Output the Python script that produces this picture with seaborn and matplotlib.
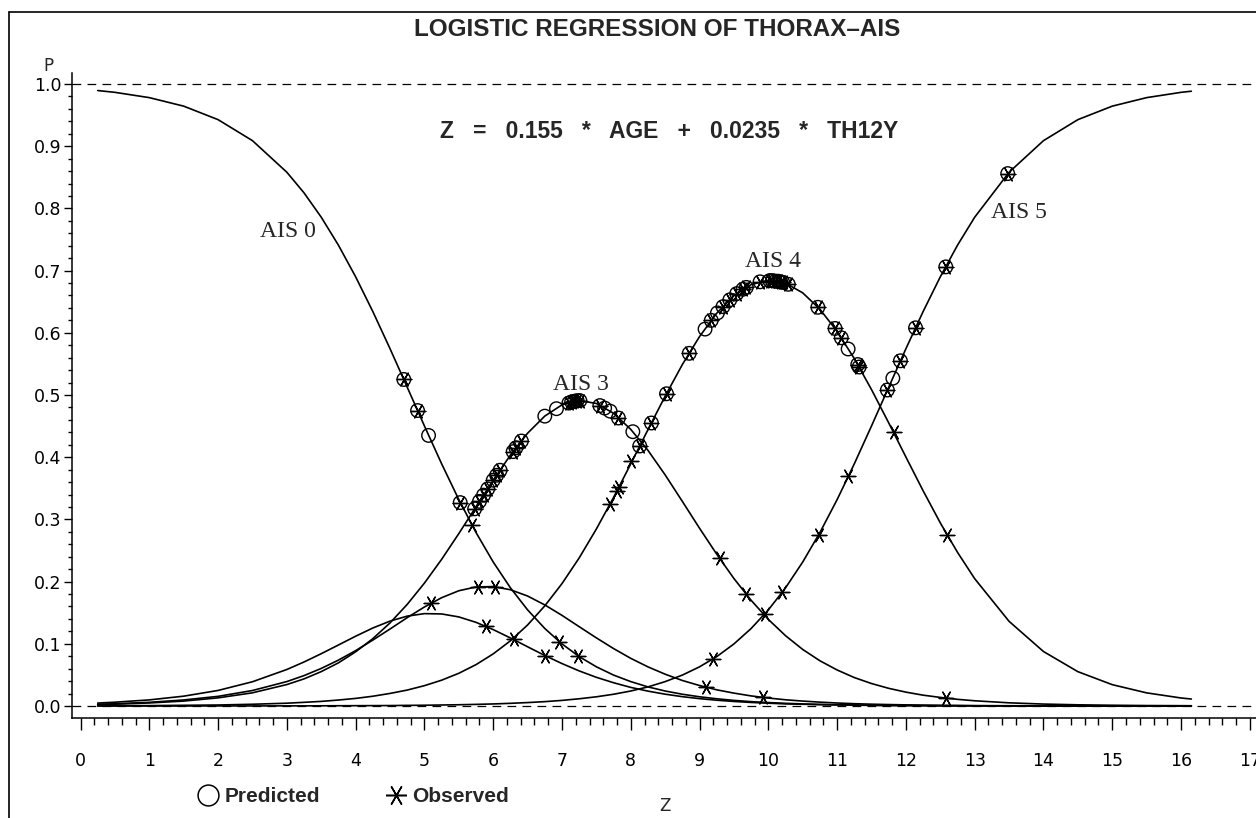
import matplotlib
matplotlib.use("Agg")
import matplotlib.pyplot as plt
import seaborn as sns
import pandas as pd
from matplotlib.lines import Line2D
from matplotlib.ticker import MultipleLocator, FormatStrFormatter

# ---------------- data ----------------
z_grid = [0.25, 0.5, 1.0, 1.5, 2.0, 2.5,
          3.0, 3.25, 3.5, 3.75, 4.0, 4.25, 4.5, 4.75, 5.0, 5.25, 5.5, 5.75,
          6.0, 6.25, 6.5, 6.75, 7.0, 7.25, 7.5, 7.75, 8.0, 8.25, 8.5, 8.75,
          9.0, 9.25, 9.5, 9.75, 10.0, 10.25, 10.5, 10.75, 11.0, 11.25, 11.5, 11.75,
          12.0, 12.25, 12.5, 12.75, 13.0,
          13.5, 14.0, 14.5, 15.0, 15.5, 16.0, 16.15]

p_ais0 = [0.9895, 0.9866, 0.9781, 0.9644, 0.9427, 0.9089,
          0.8581, 0.8249, 0.7858, 0.7408, 0.6900, 0.6341, 0.5744, 0.5125, 0.4502, 0.3894, 0.3318, 0.2789,
          0.2315, 0.1900, 0.1545, 0.1246, 0.0998, 0.0794, 0.0630, 0.0497, 0.0392, 0.0307, 0.0241, 0.0189,
          0.0148, 0.0116, 0.0090, 0.0070, 0.0055, 0.0043, 0.0033, 0.0026, 0.0020, 0.0016, 0.0012, 0.0010,
          0.0007, 0.0006, 0.0005, 0.0004, 0.0003,
          0.0002, 0.0001, 0.0001, 0.0, 0.0, 0.0, 0.0]

p_ais1 = [0.0047, 0.0061, 0.0098, 0.0158, 0.0250, 0.0390,
          0.0587, 0.0708, 0.0841, 0.0981, 0.1122, 0.1254, 0.1365, 0.1445, 0.1485, 0.1480, 0.1432, 0.1345,
          0.1228, 0.1094, 0.0952, 0.0812, 0.0682, 0.0564, 0.0461, 0.0374, 0.0299, 0.0239, 0.0190, 0.0150,
          0.0118, 0.0093, 0.0073, 0.0057, 0.0045, 0.0034, 0.0028, 0.0021, 0.0017, 0.0013, 0.0010, 0.0007,
          0.0007, 0.0005, 0.0003, 0.0002, 0.0002,
          0.0001, 0.0, 0.0, 0.0, 0.0, 0.0, 0.0]

p_ais2 = [0.0027, 0.0036, 0.0059, 0.0097, 0.0155, 0.0249,
          0.0393, 0.0489, 0.0604, 0.0738, 0.0890, 0.1060, 0.1238, 0.1421, 0.1592, 0.1741, 0.1853, 0.1914,
          0.1920, 0.1869, 0.1768, 0.1625, 0.1457, 0.1275, 0.1095, 0.0923, 0.0766, 0.0629, 0.0511, 0.0410,
          0.0329, 0.0260, 0.0207, 0.0162, 0.0128, 0.0100, 0.0079, 0.0062, 0.0048, 0.0037, 0.0029, 0.0023,
          0.0018, 0.0014, 0.0011, 0.0009, 0.0006,
          0.0004, 0.0003, 0.0002, 0.0001, 0.0001, 0.0, 0.0]

p_ais3 = [0.0023, 0.0029, 0.0049, 0.0079, 0.0131, 0.0212,
          0.0345, 0.0436, 0.0553, 0.0694, 0.0871, 0.1083, 0.1336, 0.1634, 0.1976, 0.2358, 0.2772, 0.3203,
          0.3631, 0.4034, 0.4386, 0.4661, 0.4842, 0.4911, 0.4864, 0.4706, 0.4447, 0.4110, 0.3715, 0.3289,
          0.2857, 0.2440, 0.2049, 0.1699, 0.1392, 0.1130, 0.0909, 0.0727, 0.0579, 0.0457, 0.0361, 0.0284,
          0.0223, 0.0174, 0.0138, 0.0107, 0.0084,
          0.0051, 0.0031, 0.0019, 0.0012, 0.0007, 0.0005, 0.0004]

p_ais4 = [0.0003, 0.0004, 0.0006, 0.0011, 0.0016, 0.0028,
          0.0045, 0.0059, 0.0074, 0.0096, 0.0122, 0.0157, 0.0202, 0.0256, 0.0327, 0.0415, 0.0526, 0.0665,
          0.0838, 0.1048, 0.1303, 0.1610, 0.1968, 0.2381, 0.2846, 0.3354, 0.3893, 0.4443, 0.4982, 0.5490,
          0.5940, 0.6315, 0.6597, 0.6776, 0.6844, 0.6799, 0.6642, 0.6379, 0.6022, 0.5585, 0.5087, 0.4552,
          0.4003, 0.3461, 0.2944, 0.2471, 0.2047,
          0.1361, 0.0876, 0.0552, 0.0343, 0.0211, 0.0129, 0.0112]

p_ais5 = [0.0, 0.0, 0.0, 0.0, 0.0001, 0.0001,
          0.0002, 0.0002, 0.0003, 0.0004, 0.0005, 0.0006, 0.0007, 0.0010, 0.0012, 0.0016, 0.0020, 0.0026,
          0.0033, 0.0043, 0.0055, 0.0070, 0.0090, 0.0116, 0.0148, 0.0189, 0.0241, 0.0307, 0.0392, 0.0497,
          0.0630, 0.0794, 0.0998, 0.1246, 0.1545, 0.1900, 0.2315, 0.2789, 0.3318, 0.3894, 0.4502, 0.5125,
          0.5744, 0.6341, 0.6900, 0.7408, 0.7858,
          0.8581, 0.9089, 0.9427, 0.9644, 0.9781, 0.9866, 0.9884]

curve_names = ["AIS 0", "AIS 1", "AIS 2", "AIS 3", "AIS 4", "AIS 5"]

# Predicted (open circles)
pred_z = [4.70, 4.90, 5.06, 5.52,
          5.73, 5.80, 5.86, 5.92, 6.00, 6.05, 6.10, 6.29, 6.33, 6.41,
          6.75, 6.92, 7.10, 7.14, 7.18, 7.22, 7.26, 7.55, 7.62, 7.70, 7.82, 8.03,
          8.13, 8.30, 8.52, 8.85, 9.08, 9.17, 9.26, 9.34, 9.44, 9.54,
          9.63, 9.68, 9.88, 10.02, 10.06, 10.10, 10.14, 10.18, 10.21, 10.29,
          10.72, 10.97, 11.06, 11.16, 11.30, 11.32,
          11.73, 11.81, 11.92, 12.14, 12.58, 13.48]
pred_p = [0.525, 0.475, 0.435, 0.327,
          0.317, 0.329, 0.339, 0.349, 0.363, 0.371, 0.379, 0.409, 0.415, 0.426,
          0.466, 0.478, 0.487, 0.489, 0.490, 0.491, 0.491, 0.483, 0.479, 0.474, 0.463, 0.441,
          0.418, 0.455, 0.502, 0.567, 0.606, 0.620, 0.632, 0.642, 0.653, 0.663,
          0.670, 0.673, 0.682, 0.684, 0.684, 0.683, 0.683, 0.682, 0.681, 0.678,
          0.641, 0.607, 0.592, 0.574, 0.549, 0.545,
          0.508, 0.527, 0.555, 0.608, 0.706, 0.856]

# Observed (asterisks)
obs_z = [4.70, 4.90, 5.52, 5.69, 6.96, 7.23,
         5.89, 6.30, 6.76,
         5.10, 5.78, 6.03, 9.10, 9.92,
         5.73, 5.80, 5.86, 5.92, 6.00, 6.05, 6.10, 6.29, 6.33, 6.41,
         7.10, 7.14, 7.18, 7.22, 7.26, 7.55, 7.82, 9.29, 9.68, 12.59,
         7.70, 7.80, 7.83, 8.01, 8.13, 8.30, 8.52, 8.85, 9.17, 9.34,
         9.44, 9.54, 9.63, 9.68, 9.88, 10.02, 10.06, 10.10, 10.14, 10.18,
         10.21, 10.29, 10.72, 10.97, 11.06, 11.30, 11.32, 11.82, 12.60,
         9.19, 9.95, 10.20, 10.73, 11.16, 11.73, 11.92, 12.14, 12.58, 13.48]
obs_p = [0.525, 0.475, 0.327, 0.291, 0.103, 0.081,
         0.128, 0.107, 0.081,
         0.165, 0.191, 0.191, 0.030, 0.014,
         0.317, 0.329, 0.339, 0.349, 0.363, 0.371, 0.379, 0.409, 0.415, 0.426,
         0.487, 0.489, 0.490, 0.491, 0.491, 0.483, 0.463, 0.238, 0.180, 0.013,
         0.325, 0.346, 0.352, 0.394, 0.418, 0.455, 0.502, 0.567, 0.620, 0.642,
         0.653, 0.663, 0.670, 0.673, 0.682, 0.684, 0.684, 0.683, 0.683, 0.682,
         0.681, 0.678, 0.641, 0.607, 0.592, 0.549, 0.545, 0.440, 0.275,
         0.075, 0.148, 0.183, 0.275, 0.369, 0.508, 0.555, 0.608, 0.706, 0.856]

# ---------------- styling ----------------
sns.set_theme(style="ticks")
NARROW = ["Liberation Sans Narrow", "Liberation Sans", "DejaVu Sans"]
SERIF = ["Liberation Serif", "DejaVu Serif"]
plt.rcParams["font.family"] = ["DejaVu Sans"]

W, H = 1256, 818
fig = plt.figure(figsize=(W / 100, H / 100), dpi=100)
fig.patch.set_facecolor("white")
ax = fig.add_axes([72 / W, 1 - 718 / H, (W - 72) / W, (718 - 73) / H])
ax.set_facecolor("white")

curves = [p_ais0, p_ais1, p_ais2, p_ais3, p_ais4, p_ais5]
df = pd.concat([pd.DataFrame({"z": z_grid, "p": vals, "curve": name})
                for name, vals in zip(curve_names, curves)], ignore_index=True)

ax.axhline(1.0, color="black", lw=0.9, ls=(0, (7, 5)), zorder=1)
ax.axhline(0.0, color="black", lw=0.9, ls=(0, (7, 5)), zorder=1)

sns.lineplot(data=df, x="z", y="p", units="curve", estimator=None, sort=False,
             color="black", linewidth=1.2, legend=False, ax=ax, zorder=2)

sns.scatterplot(x=pred_z, y=pred_p, marker="o", s=95, facecolor="none",
                edgecolor="black", linewidth=1.0, ax=ax, zorder=3, legend=False)
sns.scatterplot(x=obs_z, y=obs_p, marker=(6, 2, 90), s=110, color="black",
                linewidth=1.0, ax=ax, zorder=4, legend=False)

ax.set_xlim(-0.124, 17.09)
ax.set_ylim(-0.0193, 1.0177)
ax.xaxis.set_major_locator(MultipleLocator(1))
ax.xaxis.set_minor_locator(MultipleLocator(0.2))
ax.yaxis.set_major_locator(MultipleLocator(0.1))
ax.yaxis.set_minor_locator(MultipleLocator(0.02))
ax.xaxis.set_major_formatter(FormatStrFormatter("%d"))
ax.yaxis.set_major_formatter(FormatStrFormatter("%.1f"))
for s in ["top", "right"]:
    ax.spines[s].set_visible(False)
for s in ["left", "bottom"]:
    ax.spines[s].set_linewidth(1.1)
    ax.spines[s].set_color("black")
ax.tick_params(axis="x", which="major", length=8.5, width=1.0, pad=16, labelsize=12.5, colors="black")
ax.tick_params(axis="x", which="minor", length=5, width=1.0, colors="black")
ax.tick_params(axis="y", which="major", length=6, width=1.0, pad=1.5, labelsize=12.5, colors="black")
ax.tick_params(axis="y", which="minor", length=3, width=1.0, colors="black")
ax.set_xlabel("")
ax.set_ylabel("")

# curve labels
ax.text(3.01, 0.754, "AIS 0", family=SERIF, fontsize=17, ha="center", va="baseline")
ax.text(7.275, 0.508, "AIS 3", family=SERIF, fontsize=17, ha="center", va="baseline")
ax.text(10.07, 0.706, "AIS 4", family=SERIF, fontsize=17, ha="center", va="baseline")
ax.text(13.65, 0.785, "AIS 5", family=SERIF, fontsize=17, ha="center", va="baseline")

# titles
fig.text(657 / W, 1 - 36 / H, "LOGISTIC REGRESSION OF THORAX\u2013AIS", family=NARROW,
         fontweight="bold", fontsize=17.5, ha="center", va="baseline")
fig.text(669 / W, 1 - 138 / H, "Z   =   0.155   *   AGE   +   0.0235   *   TH12Y", family=NARROW,
         fontweight="bold", fontsize=16.5, ha="center", va="baseline")
fig.text(48 / W, 1 - 66 / H, "P", fontsize=12, ha="center", va="center")
fig.text(665 / W, 1 - 806 / H, "Z", fontsize=12, ha="center", va="center")

# legend
h1 = Line2D([], [], marker="o", ls="none", mfc="none", mec="black", ms=15, mew=1.1, label="Predicted")
h2 = Line2D([], [], marker=(6, 2, 90), ls="none", color="black", ms=15, mew=1.1, label="Observed")
fig.legend(handles=[h1, h2], loc="center left", bbox_to_anchor=(198 / W, 1 - 797 / H), ncol=2,
           frameon=False, handlelength=1.0, handletextpad=0.3, columnspacing=3.1,
           borderpad=0, borderaxespad=0,
           prop={"family": NARROW, "weight": "bold", "size": 15})

# page frame
fig.add_artist(Line2D([9 / W, 9 / W], [0, 1 - 12 / H], transform=fig.transFigure, color="black", lw=1.2))
fig.add_artist(Line2D([9 / W, 1], [1 - 12 / H, 1 - 12 / H], transform=fig.transFigure, color="black", lw=1.2))

fig.savefig("out.png", dpi=100, facecolor="white")
